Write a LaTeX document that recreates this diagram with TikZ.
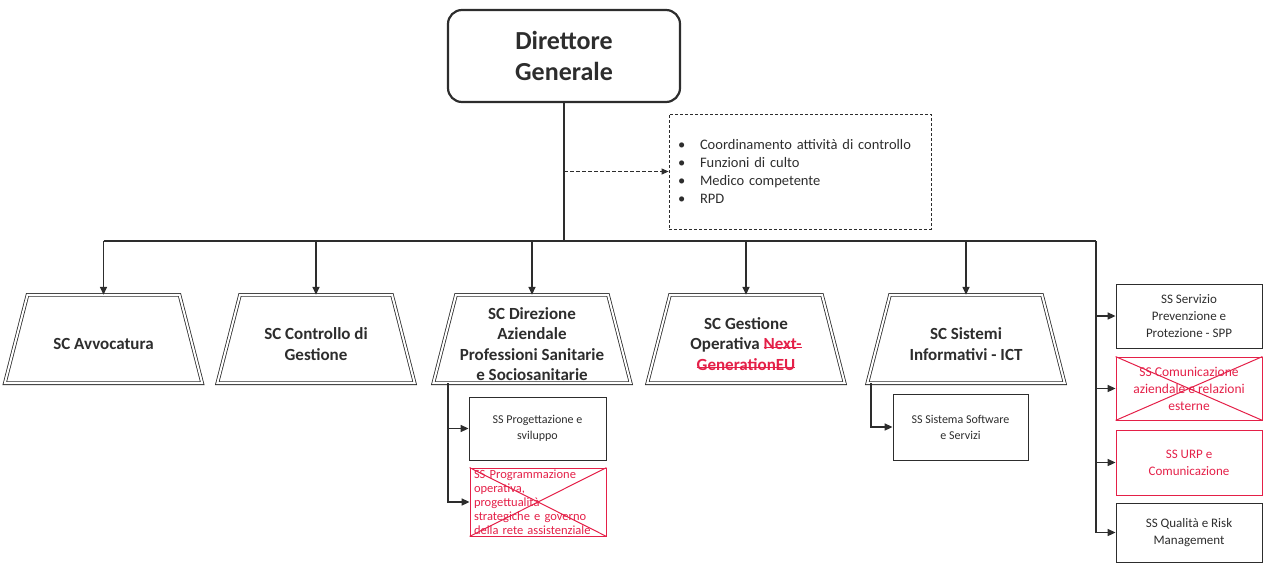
\documentclass[tikz,border=0pt]{standalone}
\usepackage{fontspec}
\setmainfont{Carlito}
\usetikzlibrary{arrows.meta, positioning, shapes.geometric}
\definecolor{ink}{RGB}{45,45,45}
\definecolor{ssred}{RGB}{228,32,72}
\newcommand{\fsz}[2]{\fontsize{#1}{#2}\selectfont}
\newcommand{\cut}[1]{\setbox0\hbox{\color{ssred}#1}{\color{ssred}\rlap{\rule[0.3ex]{\wd0}{0.9pt}}}\box0}
\newcommand{\blt}{\makebox[22pt][l]{\textbullet}}
\newcommand{\up}{\rule{0pt}{22pt}}

\begin{document}
\begin{tikzpicture}[x=1pt, y=-1pt, ink, text=ink,
    conn/.style={draw=ink, line width=1.5pt},
    arr/.style={conn, -{Triangle[length=8pt,width=7pt]}},
    sc/.style={minimum width=197, minimum height=88, inner sep=0pt, align=center,
      font=\bfseries\fsz{17}{20.5}},
    dbl/.style={draw=ink, double, double distance=2pt, line width=0.8pt},
    ssbox/.style={draw=ink, line width=0.8pt, align=center, inner sep=1pt, font=\fsz{12}{16}},
    rbox/.style={ssbox, minimum width=146, font=\fsz{13}{17}},
    gone/.style={draw=ssred, text=ssred}]
  \useasboundingbox (0,0) rectangle (1265,563);

  \node[draw=ink, line width=2.2pt, rounded corners=14, minimum width=232, minimum height=92,
    align=center, font=\bfseries\fsz{26}{31}] (dg) at (564,56) {Direttore\\Generale};
  \node[draw=ink, line width=0.8pt, dash pattern=on 3pt off 2pt, minimum height=115,
    text width=244, inner xsep=9pt, align=left, font=\fsz{14.5}{18}] (staff) at (800,171.5)
    {\blt Coordinamento attività di controllo\\ \blt Funzioni di culto\\ \blt Medico competente\\ \blt RPD};
  \coordinate (hub) at (dg.south |- 0,241);
  \coordinate (busR) at (1096,241);

  % strutture complesse
  \node[sc] (sc1) at (103.5,339) {\up SC Avvocatura};
  \node[sc] (sc2) at (316,339) {\up SC Controllo di\\Gestione};
  \node[sc] (sc3) at (532,339) {\up SC Direzione\\Aziendale\\Professioni Sanitarie\\e Sociosanitarie};
  \node[sc] (sc4) at (746,339) {\up SC Gestione\\Operativa \cut{Next-}\\\cut{GenerationEU}};
  \node[sc] (sc5) at (966,339) {\up SC Sistemi\\Informativi - ICT};
  \foreach \n in {sc1,sc2,sc3,sc4,sc5}
    \draw[dbl] ([xshift=-76]\n.north) -- ([xshift=76]\n.north) -- (\n.south east) -- (\n.south west) -- cycle;

  % strutture semplici
  \node[ssbox, minimum width=137, minimum height=63] (p1) at (537.5,428.5) {SS Progettazione e\\sviluppo};
  \node[ssbox, gone, minimum width=136, minimum height=68, text width=128, inner ysep=0pt, align=left,
    font=\fsz{12.5}{14}] (p2) at (538,502)
    {SS Programmazione\\operativa,\\progettualità\\strategiche e governo\\della rete assistenziale};
  \node[ssbox, minimum width=135, minimum height=66] (s1) at (960.5,427) {SS Sistema Software\\e Servizi};
  \node[rbox, minimum height=64] (r1) at (1189,316) {SS Servizio\\Prevenzione e\\Protezione - SPP};
  \node[rbox, gone, minimum height=63, font=\fsz{13.5}{17}] (r2) at (1189,388.5) {SS Comunicazione\\aziendale e relazioni\\esterne};
  \node[rbox, gone, minimum height=65] (r3) at (1189,462.5) {SS URP e\\Comunicazione};
  \node[rbox, minimum height=59] (r4) at (1189,532.5) {SS Qualità e Risk\\Management};

  \draw[conn] (dg) -- (hub);
  \draw[conn, line width=1.1pt, dash pattern=on 4pt off 2pt, -{Triangle[length=7pt,width=6pt]}]
    (dg.south |- staff.west) -- (staff.west);
  \draw[conn] (sc1.north |- hub) -- (busR);
  \foreach \n in {sc1,sc2,sc3,sc4,sc5} \draw[arr] (\n.north |- hub) -- (\n.north);
  \foreach \n in {r1,r2,r3,r4} \draw[arr] (busR) |- (\n.west);
  \foreach \n in {p1,p2} \draw[arr] ([xshift=-84]sc3.south) |- (\n.west);
  \draw[arr] ([xshift=-95]sc5.south) |- (s1.west);
  \foreach \n in {p2,r2} \draw[ssred, line width=1pt] (\n.north west) -- (\n.south east) (\n.south west) -- (\n.north east);
\end{tikzpicture}
\end{document}
